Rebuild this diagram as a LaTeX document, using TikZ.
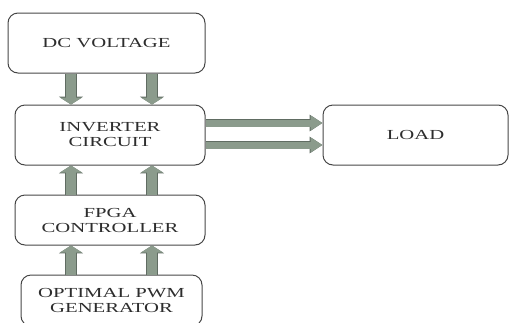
\documentclass[tikz,border=0pt]{standalone}
\usepackage{fontspec}
\setmainfont{Liberation Serif}
\newfontfamily\boxfont[FakeStretch=1.5]{Liberation Serif}
\usetikzlibrary{arrows.meta}
\definecolor{arrowfill}{RGB}{139,155,140}
\definecolor{arrowedge}{RGB}{96,108,98}
\definecolor{boxedge}{RGB}{70,70,70}
\definecolor{txt}{RGB}{45,45,45}
\begin{document}
\begin{tikzpicture}[x=1pt,y=-1pt,
  blk/.style={draw=boxedge, line width=1pt, rounded corners=10pt, align=center,
    text=txt, font=\boxfont\fontsize{13.8}{15}\selectfont, inner sep=0pt},
  vfat/.style={line width=10pt, draw=arrowfill, -{Triangle[length=7pt,width=22pt]},
    preaction={draw=arrowedge, line width=11.4pt, -{Triangle[length=7.9pt,width=24pt]}}},
  hfat/.style={line width=7pt, draw=arrowfill, -{Triangle[length=12pt,width=14pt]},
    preaction={draw=arrowedge, line width=8.4pt, -{Triangle[length=13pt,width=16pt]}}}
]
\useasboundingbox (0,0) rectangle (510,322);
\node[blk, minimum width=197pt, minimum height=60pt] (dc) at (106.5,43) {DC VOLTAGE};
\node[blk, minimum width=190pt, minimum height=60pt] (inv) at (110,135) {INVERTER\\CIRCUIT};
\node[blk, minimum width=190pt, minimum height=50pt] (fpga) at (110,220) {FPGA\\CONTROLLER};
\node[blk, minimum width=181pt, minimum height=51pt] (pwm) at (111.5,300.5) {OPTIMAL PWM\\GENERATOR};
\node[blk, minimum width=185pt, minimum height=60pt] (load) at (415.5,135) {LOAD};
\coordinate (xl) at (71,0);
\coordinate (xr) at (152,0);
\coordinate (ya) at (0,123);
\coordinate (yb) at (0,145);
\draw[vfat] (xl |- dc.south) -- (xl |- inv.north);
\draw[vfat] (xr |- dc.south) -- (xr |- inv.north);
\draw[vfat] (xl |- fpga.north) -- (xl |- inv.south);
\draw[vfat] (xr |- fpga.north) -- (xr |- inv.south);
\draw[vfat] (xl |- pwm.north) -- (xl |- fpga.south);
\draw[vfat] (xr |- pwm.north) -- (xr |- fpga.south);
\draw[hfat] (inv.east |- ya) -- (load.west |- ya);
\draw[hfat] (inv.east |- yb) -- (load.west |- yb);
\end{tikzpicture}
\end{document}
